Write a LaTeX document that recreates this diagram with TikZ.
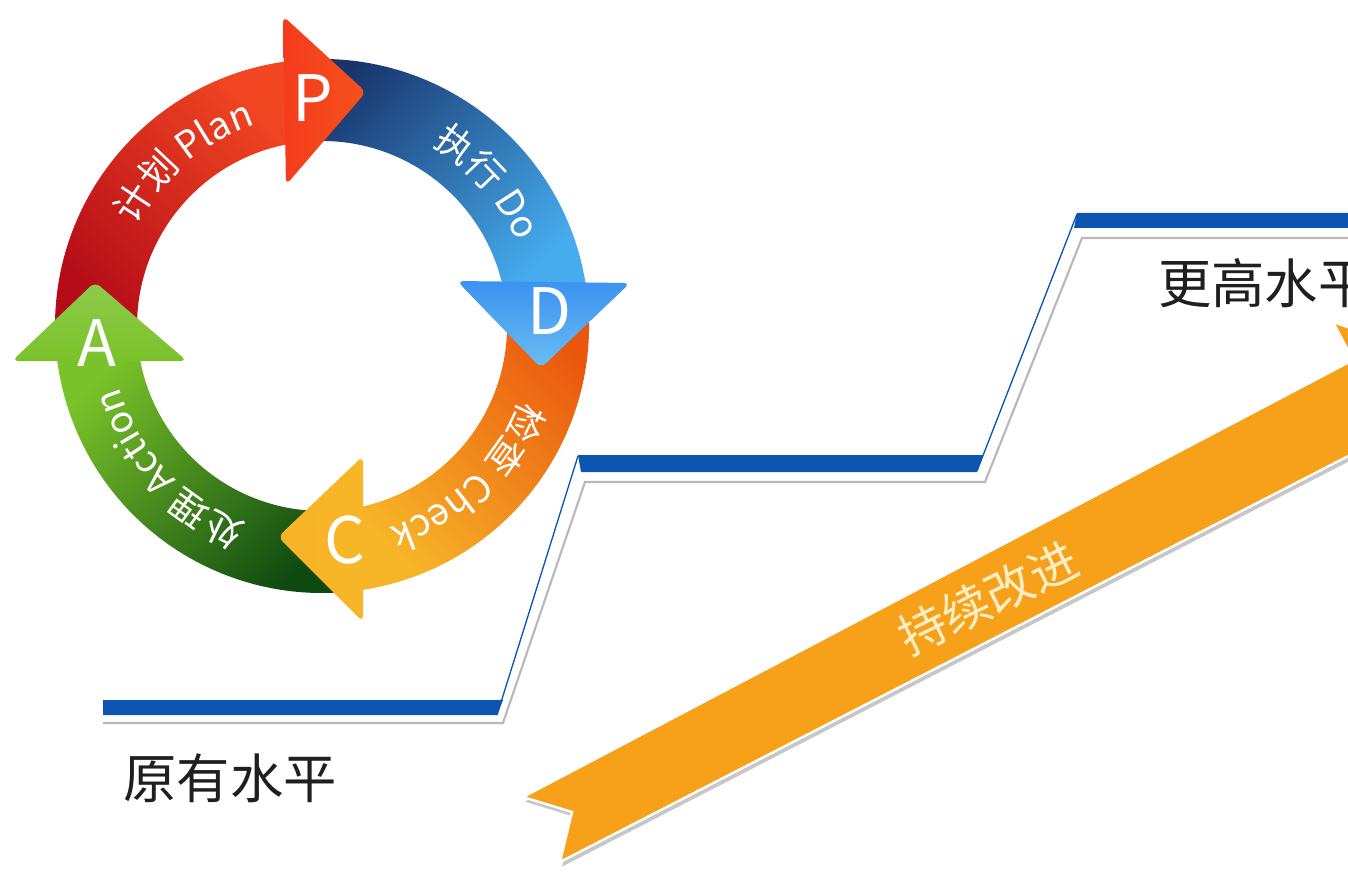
\documentclass[tikz,border=0pt]{standalone}
\usepackage{fontspec}
\setmainfont{Noto Sans CJK SC}
\usepackage{tikz}
\usetikzlibrary{decorations.text}

\definecolor{pdcaRedDk}{RGB}{180,12,24}
\definecolor{pdcaRedLt}{RGB}{242,70,34}
\definecolor{pdcaBlueDk}{RGB}{24,52,108}
\definecolor{pdcaBlueLt}{RGB}{70,172,238}
\definecolor{pdcaOrgDk}{RGB}{234,86,14}
\definecolor{pdcaOrgLt}{RGB}{247,182,40}
\definecolor{pdcaGrnDk}{RGB}{14,74,16}
\definecolor{pdcaGrnLt}{RGB}{122,194,42}
\definecolor{stepBlue}{RGB}{12,86,178}
\definecolor{ribbonOrange}{RGB}{247,161,26}
\definecolor{ribbonText}{RGB}{252,238,196}

\newcommand{\arclabelfont}{\fontsize{28}{28}\selectfont}

\tikzset{
  pdcaletter/.style={text=white, inner sep=0pt, font=\fontsize{48}{48}\selectfont},
  levellabel/.style={text=black!88, inner sep=0pt, font=\fontsize{40}{40}\selectfont},
  pdcahead/.style={rounded corners=5pt},
  steppart/.style={fill=stepBlue},
  stepedge/.style={draw=stepBlue, line width=1pt},
  stepshadow/.style={draw=black!28, line width=1.6pt},
  arclabel/.style={decorate, decoration={text along path, text align=center, text color=white, text={|\arclabelfont|#1}}}
}

\begin{document}
\begin{tikzpicture}[x=0.75pt,y=0.75pt,yscale=-1,xscale=1]
    \useasboundingbox (0,0) rectangle (1348,880);
    \clip (0,0) rectangle (1348,880);

    %Step shadow lines
    \draw [stepshadow] (103,723) -- (503,723) -- (585,482) -- (985,482) -- (1082,238) -- (1350,238) ;
    %Step side edges
    \draw [stepedge] (497,715) -- (578,456) ;
    \draw [stepedge] (977,471) -- (1077,214) ;
    %Step bars
    \fill [steppart] (103,700) -- (503,700) -- (497,715) -- (103,715) -- cycle ;
    \fill [steppart] (578,455) -- (983,455) -- (977,472) -- (581,472) -- cycle ;
    \fill [steppart] (1077,213) -- (1350,213) -- (1350,228) -- (1074,228) -- cycle ;

    %Big ribbon arrow
    \coordinate (rbTail) at (523,797);
    \coordinate (rbTop) at (1353,360);
    \coordinate (rbHeadA) at (1333,322);
    \coordinate (rbTip) at (1443,360);
    \coordinate (rbHeadB) at (1411,472);
    \coordinate (rbBot) at (1391,434);
    \coordinate (rbTailB) at (560,862);
    \coordinate (rbNotch) at (572,812);
    \fill [black!22, transform canvas={shift={(1.5pt,-3.5pt)}}] (rbTail) -- (rbTop) -- (rbHeadA) -- (rbTip) -- (rbHeadB) -- (rbBot) -- (rbTailB) -- (rbNotch) -- cycle ;
    \draw [fill=ribbonOrange, draw=white, line width=1.8pt] (rbTail) -- (rbTop) -- (rbHeadA) -- (rbTip) -- (rbHeadB) -- (rbBot) -- (rbTailB) -- (rbNotch) -- cycle ;
    % Text Node
    \node [rotate=26, text=ribbonText, inner sep=0pt, font=\fontsize{36}{36}\selectfont] (kaizen) at (988,598) {持续改进};

    %PDCA ring bands
    \begin{scope}[shift={(322,326)}, yscale=-1]
      \shade [top color=pdcaRedLt, bottom color=pdcaRedDk, shading angle=-45] (182:267) arc[start angle=182, end angle=98, radius=267] -- (98:185) arc[start angle=98, end angle=182, radius=185] -- cycle ;
      \shade [top color=pdcaBlueDk, bottom color=pdcaBlueLt, shading angle=45] (96:267) arc[start angle=96, end angle=8, radius=267] -- (8:185) arc[start angle=8, end angle=96, radius=185] -- cycle ;
      \shade [top color=pdcaOrgDk, bottom color=pdcaOrgLt, shading angle=-45] (6:267) arc[start angle=6, end angle=-82, radius=267] -- (-82:185) arc[start angle=-82, end angle=6, radius=185] -- cycle ;
      \shade [top color=pdcaGrnLt, bottom color=pdcaGrnDk, shading angle=45] (-84:267) arc[start angle=-84, end angle=-176, radius=267] -- (-176:185) arc[start angle=-176, end angle=-84, radius=185] -- cycle ;
      %Arc labels
      \path [arclabel={计划 Plan}] (180:212) arc[start angle=180, end angle=80, radius=212] ;
      \path [arclabel={执行 Do}] (91:212) arc[start angle=91, end angle=-9, radius=212] ;
      \path [arclabel={检查 Check}] (4:212) arc[start angle=4, end angle=-96, radius=212] ;
      \path [arclabel={处理 Action}] (-87:212) arc[start angle=-87, end angle=-187, radius=212] ;
    \end{scope}

    %PDCA arrow heads
    \shade [pdcahead, left color=pdcaRedLt!85!red, right color=pdcaRedLt!80!orange] (283,16) -- (366,92) -- (286,185) -- cycle ;
    \shade [pdcahead, top color=pdcaBlueLt!85!blue, bottom color=pdcaBlueLt!80!white] (457,281) -- (630,283) -- (541,368) -- cycle ;
    \shade [pdcahead, left color=pdcaOrgLt!95!orange, right color=pdcaOrgLt] (363,456) -- (363,622) -- (278,537) -- cycle ;
    \shade [pdcahead, top color=pdcaGrnLt!85!white, bottom color=pdcaGrnLt] (12,361) -- (187,361) -- (95,282) -- cycle ;

    % Text Node
    \node [pdcaletter] (P) at (313,98) {P};
    \node [pdcaletter] (D) at (550,311) {D};
    \node [pdcaletter] (C) at (345,540) {C};
    \node [pdcaletter] (A) at (97,343) {A};
    % Text Node
    \node [levellabel, anchor=west] (higher) at (1158,283) {更高水平};
    \node [levellabel] (original) at (230,778) {原有水平};
\end{tikzpicture}
\end{document}
